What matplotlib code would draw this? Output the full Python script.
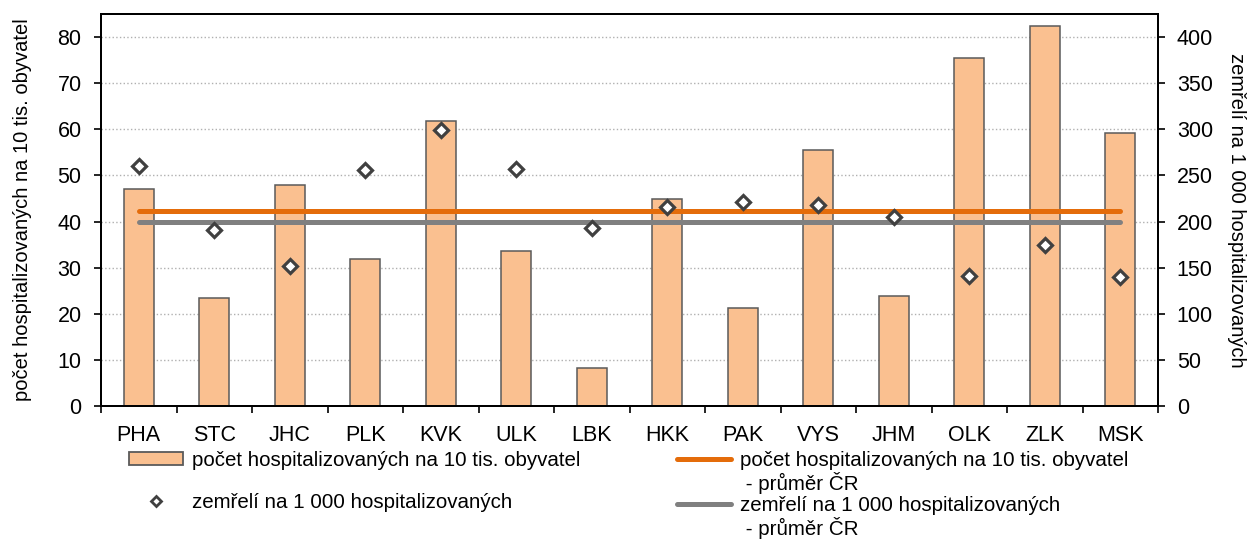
import matplotlib.pyplot as plt
from matplotlib.lines import Line2D
from matplotlib.patches import Patch
import numpy as np

plt.rcParams['font.family'] = ['Liberation Sans', 'DejaVu Sans']

regions = ['PHA', 'STC', 'JHC', 'PLK', 'KVK', 'ULK', 'LBK', 'HKK', 'PAK', 'VYS', 'JHM', 'OLK', 'ZLK', 'MSK']
hosp = [47.0, 23.4, 47.9, 31.9, 61.7, 33.7, 8.3, 44.9, 21.2, 55.5, 23.9, 75.5, 82.4, 59.1]
deaths = [260, 191, 152, 256, 299, 257, 193, 216, 221, 218, 205, 141, 175, 140]
hosp_avg = 42.2
deaths_avg = 199

lab_hosp = 'počet hospitalizovaných na 10 tis. obyvatel'
lab_deaths = 'zemřelí na 1 000 hospitalizovaných'
lab_avg = ' - průměr ČR'

bar_col = '#FAC090'
orange = '#E46C0A'
grey = '#808080'
dark = '#404040'

fig = plt.figure(figsize=(12.52, 5.4), dpi=100)
ax = fig.add_axes([101/1252, 1 - 406/540, (1158 - 101)/1252, (406 - 14)/540])
ax2 = ax.twinx()

x = np.arange(len(regions))
ax.bar(x, hosp, width=0.4, color=bar_col, edgecolor='#5a5a5a', linewidth=1.1, zorder=2)
ax.plot(x, [hosp_avg] * len(x), color=orange, lw=3.6, solid_capstyle='round', zorder=3)
ax2.plot(x, [deaths_avg] * len(x), color=grey, lw=3.6, solid_capstyle='round', zorder=3)
ax2.plot(x, deaths, linestyle='none', marker='D', ms=7.2, mfc='white', mec=dark, mew=2.3, zorder=4)

ax.set_xlim(-0.5, len(regions) - 0.5)
ax.set_ylim(0, 85)
ax2.set_ylim(0, 425)
ax.set_yticks(np.arange(0, 81, 10))
ax2.set_yticks(np.arange(0, 401, 50))
ax.set_xticks(x)
ax.set_xticklabels(regions)
ax.set_xticks(np.arange(-0.5, len(regions), 1), minor=True)
ax.tick_params(axis='x', which='major', length=0, pad=14, labelsize=15.5)
ax.tick_params(axis='x', which='minor', length=5, width=1.2, direction='out')
ax.tick_params(axis='y', length=5, width=1.2, labelsize=15.5, pad=9)
ax2.tick_params(axis='y', length=5, width=1.2, labelsize=15.5, pad=8.5)

ax.grid(axis='y', linestyle=':', color='#b0b0b0', linewidth=1.0)
ax.set_axisbelow(True)
for a in (ax, ax2):
    for s in a.spines.values():
        s.set_linewidth(1.4)
        s.set_color('black')

ax.set_ylabel(lab_hosp, fontsize=14.5, labelpad=18)
ax2.set_ylabel(lab_deaths, fontsize=14.5, rotation=270, labelpad=24)

blank = Line2D([], [], linestyle='none')
h_bar = Patch(facecolor=bar_col, edgecolor='#5a5a5a', linewidth=1.3)
h_dia = Line2D([], [], linestyle='none', marker='D', ms=5, mfc='white', mec=dark, mew=2.0)
h_or = Line2D([], [], color=orange, lw=3.6, solid_capstyle='round')
h_gr = Line2D([], [], color=grey, lw=3.6, solid_capstyle='round')

common = dict(frameon=False, fontsize=14.8, handlelength=2.65, handleheight=0.63,
              handletextpad=0.43, labelspacing=0.1, borderpad=0, borderaxespad=0,
              loc='upper left')
leg1 = fig.legend([h_bar, blank, h_dia, blank], [lab_hosp, ' ', lab_deaths, ' '],
                  bbox_to_anchor=(129/1252, 1 - 451/540), **common)
leg2 = fig.legend([h_or, blank, h_gr, blank], [lab_hosp, lab_avg, lab_deaths, lab_avg],
                  bbox_to_anchor=(677/1252, 1 - 451/540), **common)

fig.savefig('out.png', dpi=100)
